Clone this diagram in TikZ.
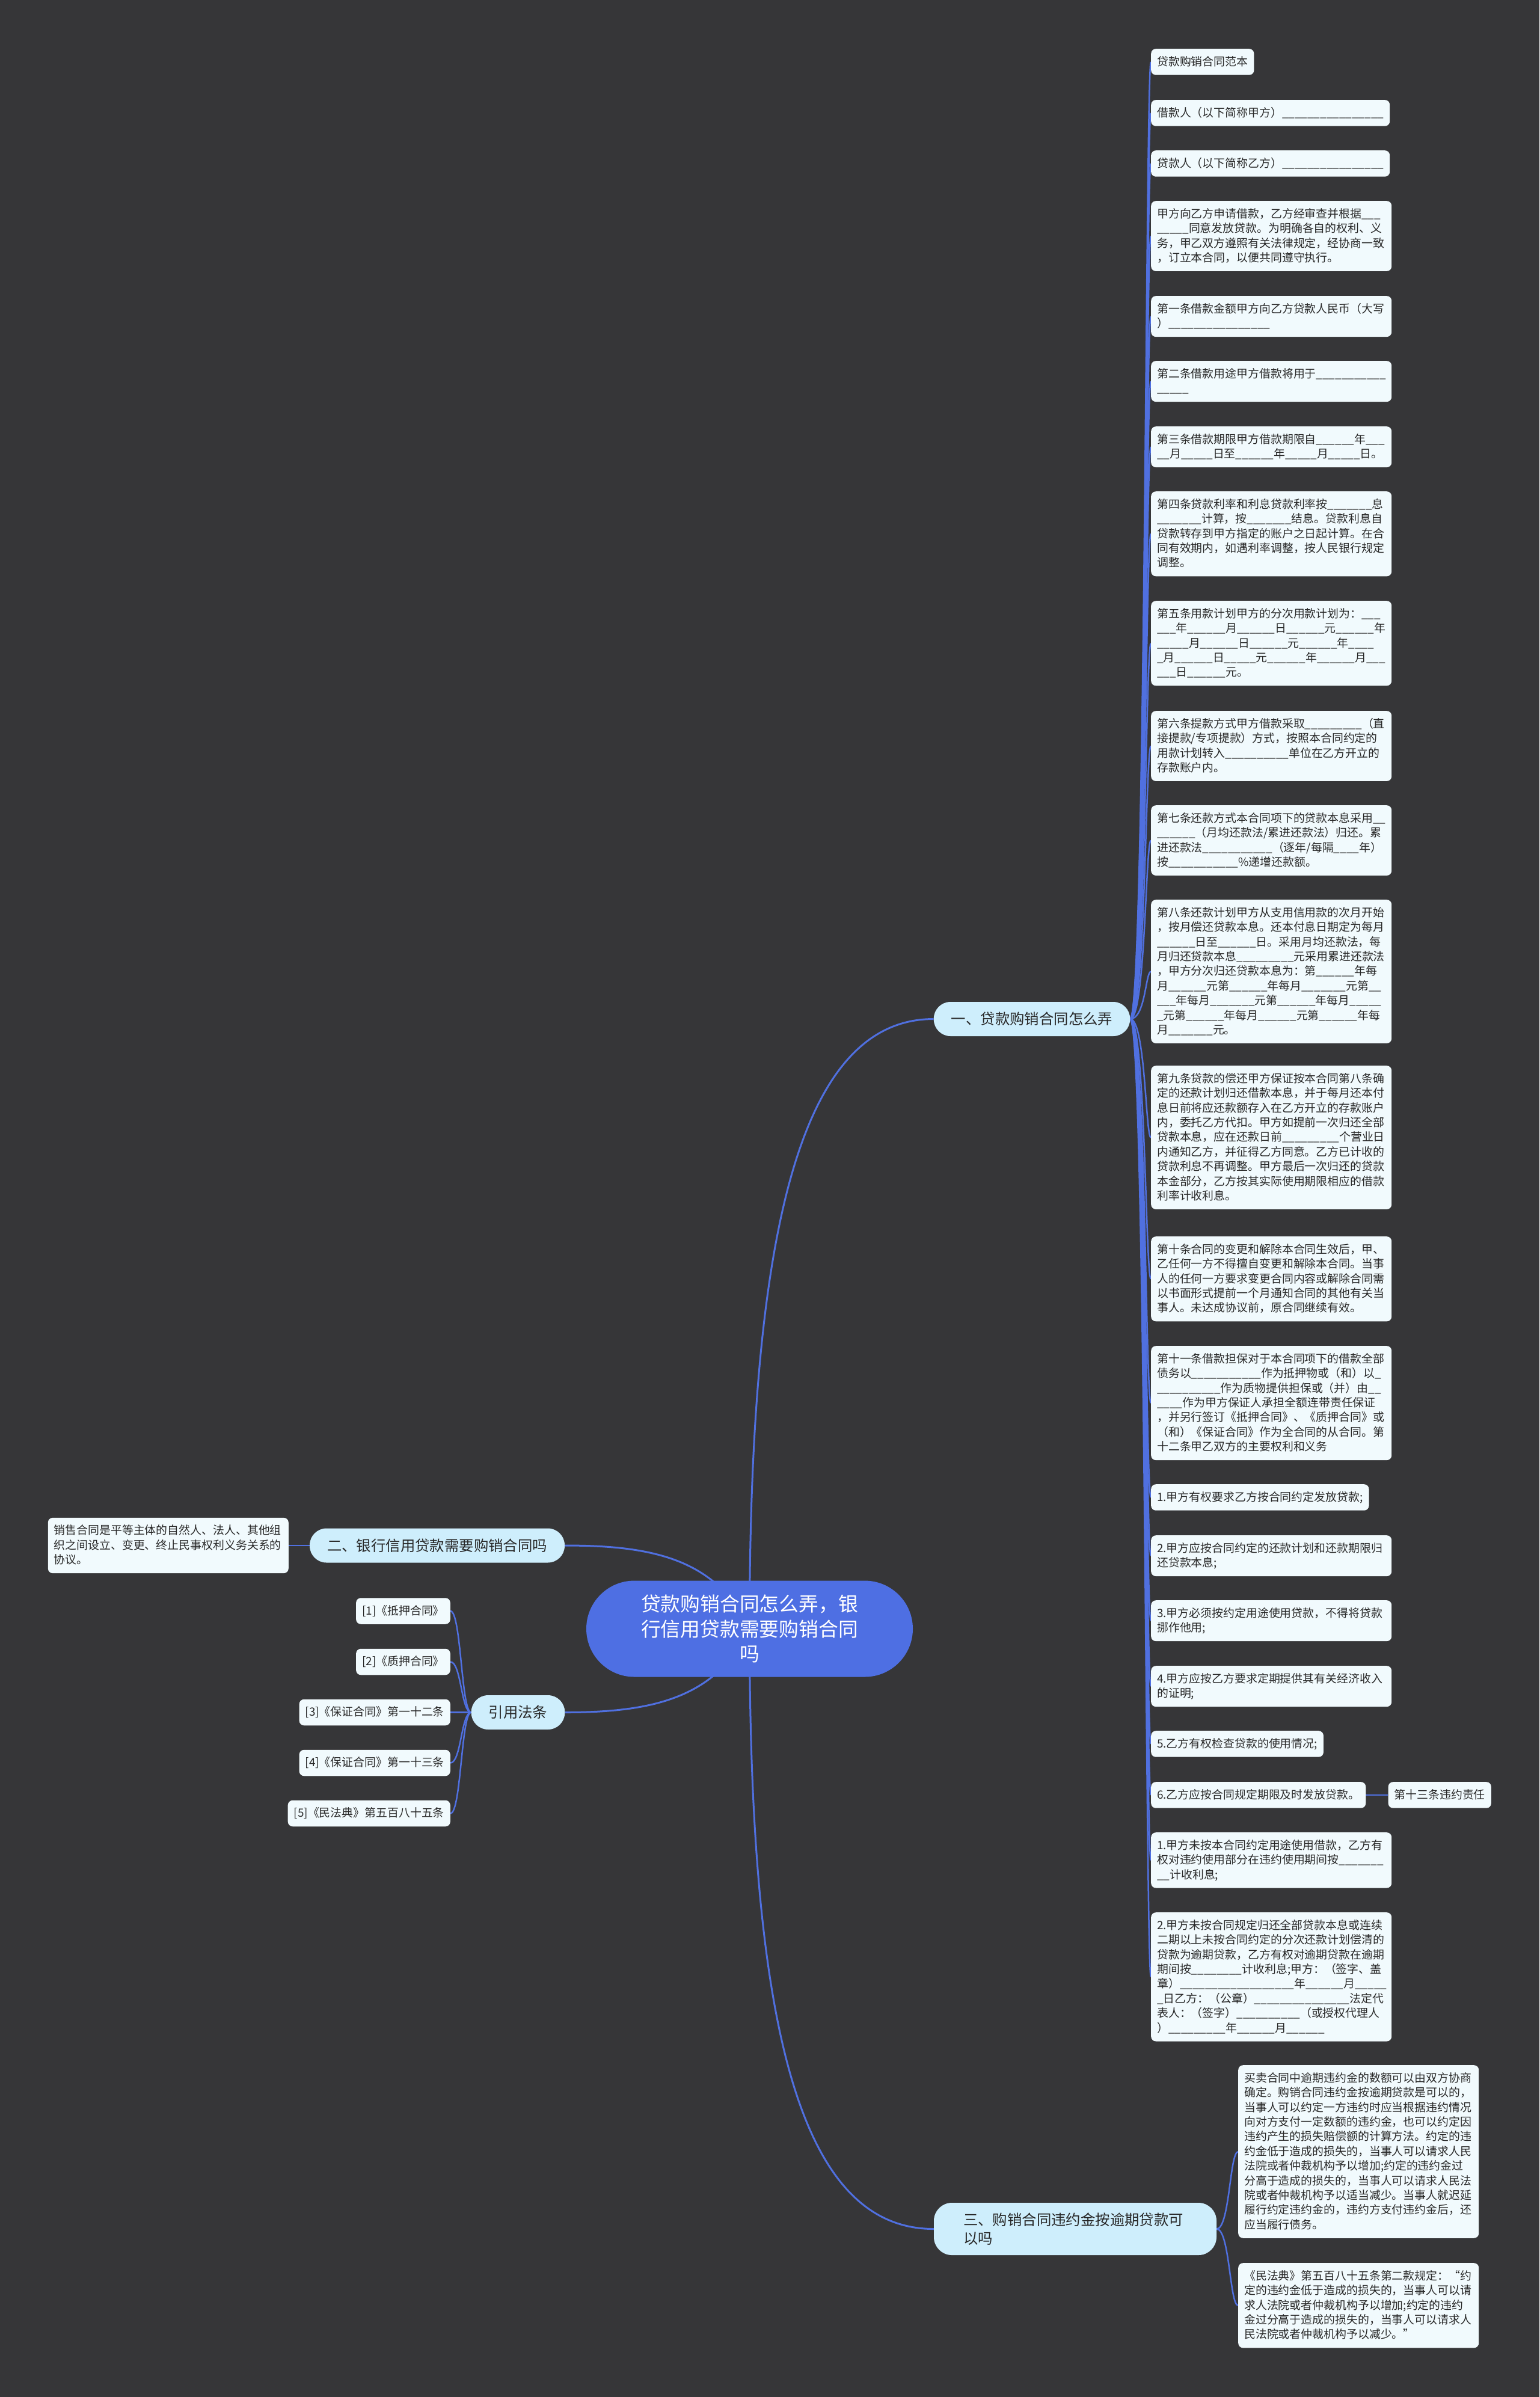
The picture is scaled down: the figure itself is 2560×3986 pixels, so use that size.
\documentclass[tikz,border=0pt]{standalone}
\usepackage{fontspec}
\setmainfont{Noto Sans CJK SC}
\usetikzlibrary{calc}
\pgfdeclarelayer{bgl}
\pgfdeclarelayer{edges}
\pgfsetlayers{bgl,edges,main}
\setlength\parindent{0pt}
\newcount\ublankcnt
\newcommand\ublank[1]{\ublankcnt=#1\relax\loop\ifnum\ublankcnt>0 \_\advance\ublankcnt by -1 \repeat}
\newcommand\leaffont{\fontsize{18.9bp}{24.4bp}\selectfont}
\newcommand\brfont{\fontsize{24.4bp}{31bp}\selectfont}
\newcommand\rootfont{\fontsize{32.8bp}{41.7bp}\selectfont}
\newcommand\lsa{\vrule height 17bp depth 0pt width 0pt}
\newcommand\lsb{\vrule height 0pt depth 4.5bp width 0pt}
\definecolor{bgc}{RGB}{54,54,56}
\definecolor{edgec}{RGB}{80,112,224}
\definecolor{rootfill}{RGB}{78,111,227}
\definecolor{brfill}{RGB}{206,238,252}
\definecolor{leaffill}{RGB}{241,250,253}
\definecolor{txt}{RGB}{40,40,40}
\tikzset{
  leaf/.style={fill=leaffill, rounded corners=8bp, inner xsep=10bp, inner ysep=11bp,
    text=txt, font=\leaffont, align=left, execute at begin node=\lsa, execute at end node=\lsb},
  wide/.style={text width=380bp},
  branch/.style={fill=brfill, text=txt, font=\brfont, rounded corners=28bp,
    minimum height=57bp, inner xsep=29bp, inner ysep=0pt},
  rootnode/.style={fill=rootfill, text=white, font=\rootfont, align=center, text width=362bp,
    minimum width=543bp, minimum height=160bp, rounded corners=80bp, inner sep=0pt},
  mainedge/.style={draw=edgec, line width=3bp},
  leafedge/.style={draw=edgec, line width=2.5bp}
}
\begin{document}
\begin{tikzpicture}[x=1bp,y=-1bp]
\begin{pgfonlayer}{bgl}
\fill[bgc] (0,0) rectangle (2560,3986);
\end{pgfonlayer}
\useasboundingbox (0,0) rectangle (2560,3986);

% root and branches
\node[rootnode] (root) at (1246.5,2708.5) {贷款购销合同怎么弄，银\\行信用贷款需要购销合同\\吗};
\node[branch] (b1) at (1716,1694.5) {一、贷款购销合同怎么弄};
\node[branch] (b2) at (727,2570) {二、银行信用贷款需要购销合同吗};
\node[branch] (b3) at (861.5,2847.5) {引用法条};
\node[branch, align=left, text width=372bp, inner xsep=49bp, minimum height=87bp, rounded corners=30bp] (b4) at (1788,3706.5) {三、购销合同违约金按逾期贷款可\\以吗};

\coordinate (sp1) at (1905,1694.5);
\coordinate (sp3) at (767,2847.5);
\coordinate (sp4) at (2045,3706.5);

% branch 1 leaves
\node[leaf, anchor=north west] (L1) at (1914,81) {贷款购销合同范本};
\node[leaf, anchor=north west] (L2) at (1914,166) {借款人（以下简称甲方）\ublank{16}};
\node[leaf, anchor=north west] (L3) at (1914,250) {贷款人（以下简称乙方）\ublank{16}};
\node[leaf, wide, anchor=north west] (L4) at (1914,334) {甲方向乙方申请借款，乙方经审查并根据\ublank{3}\\\ublank{5}同意发放贷款。为明确各自的权利、义\\务，甲乙双方遵照有关法律规定，经协商一致\\，订立本合同，以便共同遵守执行。};
\node[leaf, wide, anchor=north west] (L5) at (1914,492) {第一条借款金额甲方向乙方贷款人民币（大写\\）\ublank{16}};
\node[leaf, wide, anchor=north west] (L6) at (1914,600) {第二条借款用途甲方借款将用于\ublank{11}\\\ublank{5}};
\node[leaf, wide, anchor=north west] (L7) at (1914,709) {第三条借款期限甲方借款期限自\ublank{6}年\ublank{3}\\\ublank{2}月\ublank{5}日至\ublank{6}年\ublank{5}月\ublank{5}日。};
\node[leaf, wide, anchor=north west] (L8) at (1914,817) {第四条贷款利率和利息贷款利率按\ublank{7}息\\\ublank{7}计算，按\ublank{7}结息。贷款利息自\\贷款转存到甲方指定的账户之日起计算。在合\\同有效期内，如遇利率调整，按人民银行规定\\调整。};
\node[leaf, wide, anchor=north west] (L9) at (1914,999) {第五条用款计划甲方的分次用款计划为：\ublank{3}\\\ublank{3}年\ublank{6}月\ublank{6}日\ublank{6}元\ublank{6}年\\\ublank{5}月\ublank{6}日\ublank{6}元\ublank{6}年\ublank{4}\\\ublank{1}月\ublank{6}日\ublank{5}元\ublank{6}年\ublank{6}月\ublank{3}\\\ublank{3}日\ublank{6}元。};
\node[leaf, wide, anchor=north west] (L10) at (1914,1182) {第六条提款方式甲方借款采取\ublank{9}（直\\接提款/专项提款）方式，按照本合同约定的\\用款计划转入\ublank{10}单位在乙方开立的\\存款账户内。};
\node[leaf, wide, anchor=north west] (L11) at (1914,1339) {第七条还款方式本合同项下的贷款本息采用\ublank{2}\\\ublank{6}（月均还款法/累进还款法）归还。累\\进还款法\ublank{11}（逐年/每隔\ublank{4}年）\\按\ublank{11}\%递增还款额。};
\node[leaf, wide, anchor=north west] (L12) at (1914,1496) {第八条还款计划甲方从支用信用款的次月开始\\，按月偿还贷款本息。还本付息日期定为每月\\\ublank{6}日至\ublank{6}日。采用月均还款法，每\\月归还贷款本息\ublank{9}元采用累进还款法\\，甲方分次归还贷款本息为：第\ublank{6}年每\\月\ublank{6}元第\ublank{6}年每月\ublank{7}元第\ublank{2}\\\ublank{3}年每月\ublank{7}元第\ublank{6}年每月\ublank{5}\\\ublank{1}元第\ublank{6}年每月\ublank{6}元第\ublank{6}年每\\月\ublank{7}元。};
\node[leaf, wide, anchor=north west] (L13) at (1914,1772) {第九条贷款的偿还甲方保证按本合同第八条确\\定的还款计划归还借款本息，并于每月还本付\\息日前将应还款额存入在乙方开立的存款账户\\内，委托乙方代扣。甲方如提前一次归还全部\\贷款本息，应在还款日前\ublank{9}个营业日\\内通知乙方，并征得乙方同意。乙方已计收的\\贷款利息不再调整。甲方最后一次归还的贷款\\本金部分，乙方按其实际使用期限相应的借款\\利率计收利息。};
\node[leaf, wide, anchor=north west] (L14) at (1914,2056) {第十条合同的变更和解除本合同生效后，甲、\\乙任何一方不得擅自变更和解除本合同。当事\\人的任何一方要求变更合同内容或解除合同需\\以书面形式提前一个月通知合同的其他有关当\\事人。未达成协议前，原合同继续有效。};
\node[leaf, wide, anchor=north west] (L15) at (1914,2238) {第十一条借款担保对于本合同项下的借款全部\\债务以\ublank{11}作为抵押物或（和）以\ublank{1}\\\ublank{10}作为质物提供担保或（并）由\ublank{2}\\\ublank{4}作为甲方保证人承担全额连带责任保证\\，并另行签订《抵押合同》、《质押合同》或\\（和）《保证合同》作为全合同的从合同。第\\十二条甲乙双方的主要权利和义务};
\node[leaf, anchor=north west] (L16) at (1914,2468) {1.甲方有权要求乙方按合同约定发放贷款;};
\node[leaf, wide, anchor=north west] (L17) at (1914,2553) {2.甲方应按合同约定的还款计划和还款期限归\\还贷款本息;};
\node[leaf, wide, anchor=north west] (L18) at (1914,2661) {3.甲方必须按约定用途使用贷款，不得将贷款\\挪作他用;};
\node[leaf, wide, anchor=north west] (L19) at (1914,2770) {4.甲方应按乙方要求定期提供其有关经济收入\\的证明;};
\node[leaf, anchor=north west] (L20) at (1914,2878) {5.乙方有权检查贷款的使用情况;};
\node[leaf, anchor=north west] (L21) at (1914,2963) {6.乙方应按合同规定期限及时发放贷款。};
\node[leaf, anchor=west] (t13) at ([xshift=37bp]L21.east) {第十三条违约责任};
\node[leaf, wide, anchor=north west] (L22) at (1914,3047) {1.甲方未按本合同约定用途使用借款，乙方有\\权对违约使用部分在违约使用期间按\ublank{7}\\\ublank{2}计收利息;};
\node[leaf, wide, anchor=north west] (L23) at (1914,3180) {2.甲方未按合同规定归还全部贷款本息或连续\\二期以上未按合同约定的分次还款计划偿清的\\贷款为逾期贷款，乙方有权对逾期贷款在逾期\\期间按\ublank{8}计收利息;甲方：（签字、盖\\章）\ublank{18}年\ublank{6}月\ublank{5}\\\ublank{1}日乙方：（公章）\ublank{15}法定代\\表人：（签字）\ublank{10}（或授权代理人\\）\ublank{9}年\ublank{6}月\ublank{6}};

% branch 2
\node[leaf, wide, anchor=east] (desc) at (480,2570) {销售合同是平等主体的自然人、法人、其他组\\织之间设立、变更、终止民事权利义务关系的\\协议。};

% citations
\node[leaf, anchor=east] (c1) at (749,2679) {[1]《抵押合同》};
\node[leaf, anchor=east] (c2) at (749,2763.5) {[2]《质押合同》};
\node[leaf, anchor=east] (c3) at (749,2847.5) {[3]《保证合同》第一十二条};
\node[leaf, anchor=east] (c4) at (749,2931.5) {[4]《保证合同》第一十三条};
\node[leaf, anchor=east] (c5) at (749,3015.5) {[5]《民法典》第五百八十五条};

% branch 3 leaves
\node[leaf, wide, anchor=north west] (A1) at (2059,3434) {买卖合同中逾期违约金的数额可以由双方协商\\确定。购销合同违约金按逾期贷款是可以的，\\当事人可以约定一方违约时应当根据违约情况\\向对方支付一定数额的违约金，也可以约定因\\违约产生的损失赔偿额的计算方法。约定的违\\约金低于造成的损失的，当事人可以请求人民\\法院或者仲裁机构予以增加;约定的违约金过\\分高于造成的损失的，当事人可以请求人民法\\院或者仲裁机构予以适当减少。当事人就迟延\\履行约定违约金的，违约方支付违约金后，还\\应当履行债务。};
\node[leaf, wide, anchor=north west] (A2) at (2059,3763) {《民法典》第五百八十五条第二款规定：“约\\定的违约金低于造成的损失的，当事人可以请\\求人法院或者仲裁机构予以增加;约定的违约\\金过分高于造成的损失的，当事人可以请求人\\民法院或者仲裁机构予以减少。”};

\begin{pgfonlayer}{edges}
\draw[mainedge] (root.center) .. controls (1246.5,2050) and (1330,1694.5) .. (b1.west);
\draw[mainedge] (root.center) .. controls (1246.5,3370) and (1330,3706.5) .. (b4.west);
\draw[mainedge] (root.center) .. controls (1190,2590) and (1080,2570) .. (b2.east);
\draw[mainedge] (root.center) .. controls (1190,2826) and (1080,2847.5) .. (b3.east);
\draw[leafedge] (b2.west) -- (desc.east);
\foreach \n in {L1,L2,L3,L4,L5,L6,L7,L8,L9,L10,L11,L12,L13,L14,L15,L16,L17,L18,L19,L20,L21,L22,L23}
  \draw[leafedge] (b1.east) .. controls (sp1) and (sp1 |- \n.west) .. (\n.west);
\draw[leafedge] (L21.east) -- (t13.west);
\foreach \n in {c1,c2,c3,c4,c5}
  \draw[leafedge] (b3.west) .. controls (sp3) and (sp3 |- \n.east) .. (\n.east);
\foreach \n in {A1,A2}
  \draw[leafedge] (b4.east) .. controls (sp4) and (sp4 |- \n.west) .. (\n.west);
\end{pgfonlayer}
\end{tikzpicture}
\end{document}
